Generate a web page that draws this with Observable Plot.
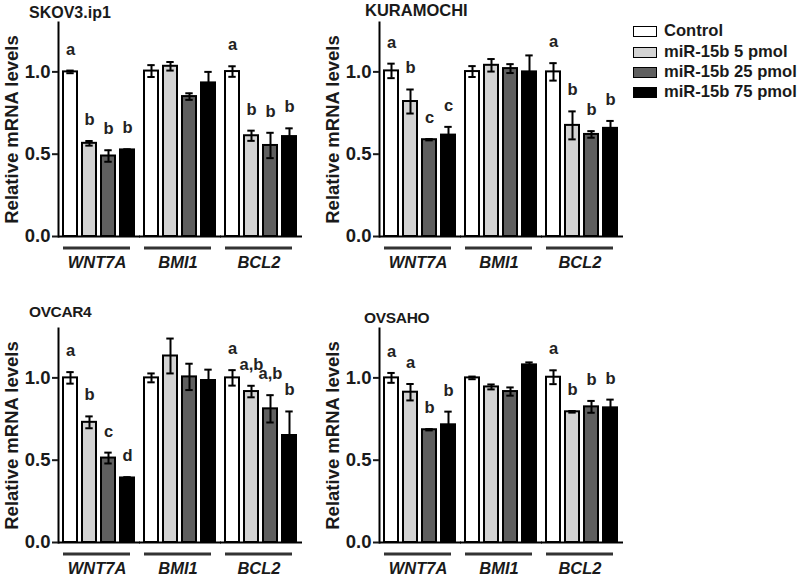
<!DOCTYPE html>
<html><head><meta charset="utf-8">
<script src="https://cdn.jsdelivr.net/npm/d3@7"></script>
<script src="https://cdn.jsdelivr.net/npm/@observablehq/plot@0.6"></script>
<style>
body{margin:0;background:#fff;}
#root{position:relative;width:800px;height:577px;font-family:'Liberation Sans',Arial,Helvetica,sans-serif;font-weight:bold;color:#1a1a1a;overflow:hidden;}
.panel{position:absolute;}
.title{position:absolute;white-space:nowrap;line-height:1;}
.row{position:absolute;display:flex;align-items:center;white-space:nowrap;font-size:16.6px;line-height:1;}
.sw{width:22px;height:9px;border:1.5px solid #000;margin-right:7px;}
[aria-label="fx-axis tick label"] text{font-style:italic;}
</style>
</head>
<body>
<div id="root"></div>
<script>
// ---- data ----
const genes = ["WNT7A", "BMI1", "BCL2"];
const treatments = ["Control", "miR-15b 5 pmol", "miR-15b 25 pmol", "miR-15b 75 pmol"];
const panelNames = ["SKOV3.ip1", "KURAMOCHI", "OVCAR4", "OVSAHO"];
const treatColors = ["#ffffff", "#d3d3d3", "#5f5f5f", "#000000"];

// values ordered gene by gene (WNT7A x4, BMI1 x4, BCL2 x4)
const skov3Means   = [1.000, 0.566, 0.489, 0.526, 1.005, 1.034, 0.850, 0.933, 1.002, 0.612, 0.553, 0.607];
const skov3Errs    = [0.008, 0.014, 0.035, 0.004, 0.036, 0.026, 0.020, 0.067, 0.032, 0.031, 0.077, 0.050];
const skov3Letters = ["a", "b", "b", "b", "", "", "", "", "a", "b", "b", "b"];

const kuraMeans    = [1.006, 0.820, 0.588, 0.616, 1.002, 1.040, 1.020, 1.000, 1.000, 0.675, 0.620, 0.657];
const kuraErrs     = [0.044, 0.073, 0.004, 0.050, 0.033, 0.038, 0.027, 0.100, 0.053, 0.085, 0.020, 0.045];
const kuraLetters  = ["a", "b", "c", "c", "", "", "", "", "a", "b", "b", "b"];

const ovcarMeans   = [1.000, 0.730, 0.513, 0.392, 1.000, 1.133, 1.006, 0.984, 1.000, 0.917, 0.812, 0.650];
const ovcarErrs    = [0.035, 0.036, 0.033, 0.005, 0.027, 0.106, 0.080, 0.066, 0.047, 0.035, 0.083, 0.146];
const ovcarLetters = ["a", "b", "c", "d", "", "", "", "", "a", "a,b", "a,b", "b"];

const ovsahoMeans  = [1.000, 0.913, 0.685, 0.715, 1.000, 0.945, 0.917, 1.079, 1.004, 0.794, 0.824, 0.818];
const ovsahoErrs   = [0.030, 0.050, 0.004, 0.080, 0.008, 0.015, 0.025, 0.015, 0.042, 0.005, 0.036, 0.050];
const ovsahoLetters= ["a", "a", "b", "b", "", "", "", "", "a", "b", "b", "b"];

const yTicks = [0, 0.5, 1.0];
const yLabel = "Relative mRNA levels";

// ---- layout ----
const panelSeries = [
  [skov3Means, skov3Errs, skov3Letters],
  [kuraMeans, kuraErrs, kuraLetters],
  [ovcarMeans, ovcarErrs, ovcarLetters],
  [ovsahoMeans, ovsahoErrs, ovsahoLetters]
];
const panelPos = [{left: 0, top: 0}, {left: 321, top: 0}, {left: 0, top: 306}, {left: 321, top: 306}];
const titlePos = [
  {x: 29, cy: 12.5, fs: 16, ls: 0},
  {x: 365, cy: 10.5, fs: 16.5, ls: 0},
  {x: 29, cy: 311.7, fs: 15.5, ls: -0.4},
  {x: 364, cy: 317.5, fs: 15.5, ls: -0.3}
];

const root = document.getElementById("root");
const font = "'Liberation Sans', Arial, Helvetica, sans-serif";

panelSeries.forEach(([means, errs, letters], p) => {
  const rows = means.map((m, i) => ({
    gene: genes[Math.floor(i / 4)],
    treat: treatments[i % 4],
    mean: m,
    err: errs[i],
    letter: letters[i]
  }));

  const chart = Plot.plot({
    width: 300,
    height: 290,
    marginLeft: 57,
    marginRight: 3,
    marginTop: 22,
    marginBottom: 54,
    style: {fontFamily: font, fontWeight: "bold", overflow: "visible", background: "transparent", color: "#1a1a1a"},
    fx: {domain: genes, paddingInner: 0.055, paddingOuter: 0},
    x: {domain: treatments, paddingInner: 0.24, paddingOuter: 0, insetLeft: 5, axis: null},
    y: {domain: [0, 1.3]},
    color: {domain: treatments, range: treatColors},
    marks: [
      Plot.barY(rows, {fx: "gene", x: "treat", y: "mean", fill: "treat", stroke: "#000", strokeWidth: 2}),
      Plot.ruleX(rows, {fx: "gene", x: "treat", y1: d => d.mean - d.err, y2: d => d.mean + d.err, stroke: "#000", strokeWidth: 2}),
      Plot.tickY(rows, {fx: "gene", x: "treat", y: d => d.mean + d.err, stroke: "#000", strokeWidth: 2, insetLeft: 3.3, insetRight: 3.3}),
      Plot.tickY(rows, {fx: "gene", x: "treat", y: d => d.mean - d.err, stroke: "#000", strokeWidth: 2, insetLeft: 3.3, insetRight: 3.3}),
      Plot.text(rows.filter(d => d.letter), {fx: "gene", x: "treat", y: d => d.mean + d.err, text: "letter", dy: -16, lineAnchor: "bottom", fontSize: 16.5, fontWeight: "bold", fill: "#222"}),
      Plot.ruleY([0], {stroke: "#000", strokeWidth: 2, insetRight: -5}),
      Plot.ruleY([0], {stroke: "#333", strokeWidth: 3, dy: 11.5, insetLeft: 5, insetRight: 5}),
      Plot.frame({anchor: "left", stroke: "#000", strokeWidth: 2, facetAnchor: "left"}),
      Plot.axisY({ticks: yTicks, tickFormat: d3.format(".1f"), tickSize: 6, tickPadding: 2, strokeWidth: 2, fontSize: 18.5, fontWeight: "bold", fill: "#1a1a1a", label: yLabel, labelAnchor: "center", labelOffset: 54, labelArrow: "none"}),
      Plot.axisFx({anchor: "bottom", tickSize: 0, tickPadding: 20, label: null, fontSize: 16.5, fontStyle: "italic", fontWeight: "bold", fill: "#1a1a1a"})
    ]
  });

  const holder = document.createElement("div");
  holder.className = "panel";
  holder.style.left = panelPos[p].left + "px";
  holder.style.top = panelPos[p].top + "px";
  holder.appendChild(chart);
  root.appendChild(holder);

  const t = document.createElement("div");
  t.className = "title";
  t.textContent = panelNames[p];
  t.style.fontSize = titlePos[p].fs + "px";
  t.style.letterSpacing = titlePos[p].ls + "px";
  t.style.left = titlePos[p].x + "px";
  t.style.top = (titlePos[p].cy - 0.49 * titlePos[p].fs) + "px";
  root.appendChild(t);
});

// ---- legend ----
const legendRowsY = [31.7, 52.1, 72.3, 92.4];
treatments.forEach((name, i) => {
  const row = document.createElement("div");
  row.className = "row";
  row.style.left = "633px";
  row.style.top = (legendRowsY[i] - 8) + "px";
  row.style.height = "16px";
  const sw = document.createElement("div");
  sw.className = "sw";
  sw.style.background = treatColors[i];
  const label = document.createElement("span");
  label.textContent = name;
  row.appendChild(sw);
  row.appendChild(label);
  root.appendChild(row);
});
</script>
</body></html>
